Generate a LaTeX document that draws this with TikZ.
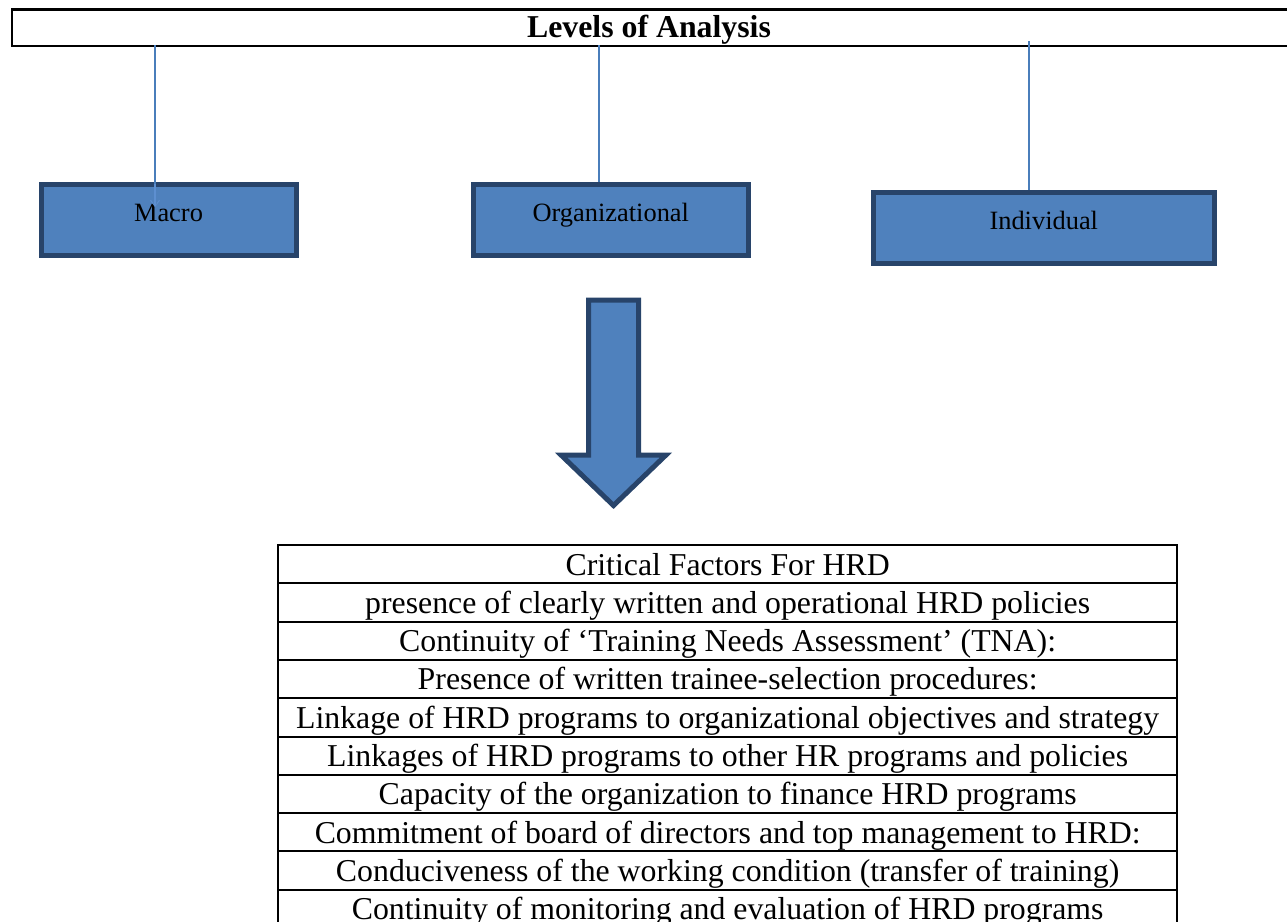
\documentclass[tikz,border=0pt]{standalone}
\usepackage{fontspec}
\setmainfont{Liberation Serif}
\usetikzlibrary{arrows.meta}
\definecolor{boxfill}{HTML}{4F81BD}
\definecolor{boxedge}{HTML}{28446A}
\definecolor{connblue}{HTML}{4A7EBB}
\definecolor{connlight}{HTML}{5D8FD0}
\begin{document}
\begin{tikzpicture}[x=1pt,y=-1pt,
  titlebar/.style={draw=black, line width=2.3pt, fill=white, inner sep=0pt, anchor=north west},
  lvlbox/.style={draw=boxedge, line width=5pt, fill=boxfill, inner xsep=0pt, inner ysep=0pt,
    text height=37.7pt, text depth=33.3pt, font=\fontsize{26.4}{30}\selectfont},
  conn/.style={draw=connblue, line width=2.5pt},
  rowcell/.style={draw=black, line width=2pt, anchor=north west, inner xsep=0pt, inner ysep=0pt,
    minimum width=898.7pt, text height=30pt, text depth=8.3pt, font=\fontsize{31.8}{36}\selectfont},
  bigarrow/.style={draw=boxedge, line width=5pt, fill=boxfill, line join=miter}
]
\useasboundingbox (0,0) rectangle (1287,921);

% title bar
\node[titlebar, minimum width=1300pt, minimum height=36.7pt] (title) at (11,8.3) {};
\node[anchor=base, font=\fontsize{31.8}{36}\selectfont\bfseries] (titletext) at (649,37.3) {Levels of Analysis};

% level boxes
\node[lvlbox, minimum width=255pt] (macro) at (168.5,219.5) {Macro};
\node[lvlbox, minimum width=275.3pt] (org) at (610.8,219.7) {Organizational};
\node[lvlbox, minimum width=341.3pt] (ind) at (1043.8,227.5) {Individual};

% connectors
\coordinate (macroTop) at (155,45);
\coordinate (macroEdge) at (155,184);
\coordinate (macroEnd) at (155,207);
\coordinate (orgTop) at (599,45);
\coordinate (orgEnd) at (599,182);
\coordinate (indTop) at (1029,41);
\coordinate (indEnd) at (1029,190);
\draw[conn] (macroTop) -- (macroEdge);
\draw[conn, draw=connlight, -{Straight Barb[length=6pt,width=9pt,line width=1pt]}] (macroEdge) -- (macroEnd);
\draw[conn] (orgTop) -- (orgEnd);
\draw[conn] (indTop) -- (indEnd);

% big down arrow
\draw[bigarrow] (588.5,300) -- (638.5,300) -- (638.5,455) -- (666,455) -- (613.5,505.5)
  -- (561,455) -- (588.5,455) -- cycle;

% table
\foreach \i/\t in {0/{Critical Factors For HRD},
  1/{presence of clearly written and operational HRD policies},
  2/{Continuity of ‘Training Needs Assessment’ (TNA):},
  3/{Presence of written trainee-selection procedures:},
  4/{Linkage of HRD programs to organizational objectives and strategy},
  5/{Linkages of HRD programs to other HR programs and policies},
  6/{Capacity of the organization to finance HRD programs},
  7/{Commitment of board of directors and top management to HRD:},
  8/{Conduciveness of the working condition (transfer of training)},
  9/{Continuity of monitoring and evaluation of HRD programs}}{
  \node[rowcell] (row\i) at (277.3,544+38.3*\i) {\t};
}
\end{tikzpicture}
\end{document}
